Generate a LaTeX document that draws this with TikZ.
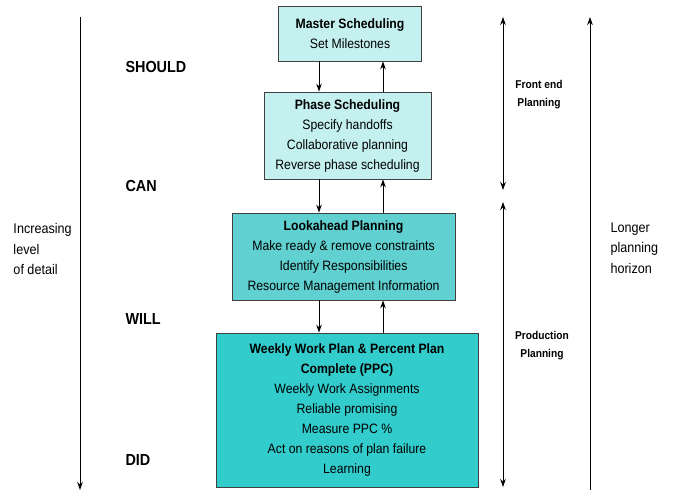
\documentclass[tikz,border=0pt]{standalone}
\usepackage{fontspec}
\setmainfont{Liberation Sans}[FakeStretch=0.9]
\usetikzlibrary{arrows.meta}

\definecolor{pale}{RGB}{196,240,240}
\definecolor{mid}{RGB}{96,208,208}
\definecolor{deep}{RGB}{51,204,204}

\tikzset{every picture/.style={line width=0.75pt}}
\tikzset{
  planbox/.style={draw=black!75, line width=0.6pt, align=center, inner sep=0pt,
    font=\fontsize{10.2}{15}\selectfont},
  level/.style={anchor=west, inner sep=0pt, font=\fontsize{12}{14}\selectfont\bfseries},
  side/.style={align=center, inner sep=0pt, font=\fontsize{8.5}{13.5}\selectfont\bfseries},
  note/.style={align=left, anchor=west, inner sep=0pt, font=\fontsize{10.5}{15.5}\selectfont},
  tip/.style={-{Stealth[length=6pt,width=4.2pt]}},
  twotip/.style={{Stealth[length=6pt,width=4.2pt]}-{Stealth[length=6pt,width=4.2pt]}}
}

\begin{document}
\begin{tikzpicture}[x=0.75pt,y=0.75pt,yscale=-1]
	\useasboundingbox (0,0) rectangle (674,491);
	
	%Boxes
	\node [planbox, fill=pale, minimum width=107.25pt, minimum height=41.25pt] (master) at (350,33.5)
		{\textbf{Master Scheduling}\\Set Milestones};
	\node [planbox, fill=pale, minimum width=125.25pt, minimum height=65.25pt] (phase) at (347.5,135.5)
		{\textbf{Phase Scheduling}\\Specify handoffs\\Collaborative planning\\Reverse phase scheduling};
	\node [planbox, fill=mid, minimum width=167.25pt, minimum height=65.25pt] (look) at (343.5,256.5)
		{\textbf{Lookahead Planning}\\Make ready \& remove constraints\\Identify Responsibilities\\Resource Management Information};
	\node [planbox, fill=deep, minimum width=196.5pt, minimum height=115.5pt] (weekly) at (347,410)
		{\textbf{Weekly Work Plan \& Percent Plan}\\\textbf{Complete (PPC)}\\Weekly Work Assignments\\Reliable promising\\Measure PPC \%\\Act on reasons of plan failure\\Learning};
	
	%Links between boxes
	\coordinate (dn) at (319,0);
	\coordinate (up) at (383,0);
	\draw [tip] (master.south -| dn) -- (phase.north -| dn);
	\draw [tip] (phase.north -| up) -- (master.south -| up);
	\draw [tip] (phase.south -| dn) -- (look.north -| dn);
	\draw [tip] (look.north -| up) -- (phase.south -| up);
	\draw [tip] (look.south -| dn) -- (weekly.north -| dn);
	\draw [tip] (weekly.north -| up) -- (look.south -| up);
	
	%Left axis
	\coordinate (detailtop) at (80,17);
	\coordinate (detailend) at (80,490);
	\draw [tip] (detailtop) -- (detailend);
	\node [note] (detail) at (13,249) {Increasing\\level\\of detail};
	
	% Text Node
	\node [level] (should) at (125,67) {SHOULD};
	\node [level] (can) at (125,186) {CAN};
	\node [level] (will) at (125,319) {WILL};
	\node [level] (did) at (125,460) {DID};
	
	%Right axes
	\coordinate (fronttop) at (503,17);
	\coordinate (frontend) at (503,190);
	\coordinate (prodtop) at (503,202);
	\coordinate (prodend) at (503,487);
	\coordinate (horizontop) at (590,17);
	\coordinate (horizonend) at (590,490);
	\draw [twotip] (fronttop) -- (frontend);
	\draw [twotip] (prodtop) -- (prodend);
	\draw [tip] (horizonend) -- (horizontop);
	
	% Text Node
	\node [side] (front) at (539,95) {Front end\\Planning};
	\node [side] (prod) at (542,346) {Production\\Planning};
	\node [note] (horizon) at (610,248) {Longer\\planning\\horizon};
	
\end{tikzpicture}
\end{document}
